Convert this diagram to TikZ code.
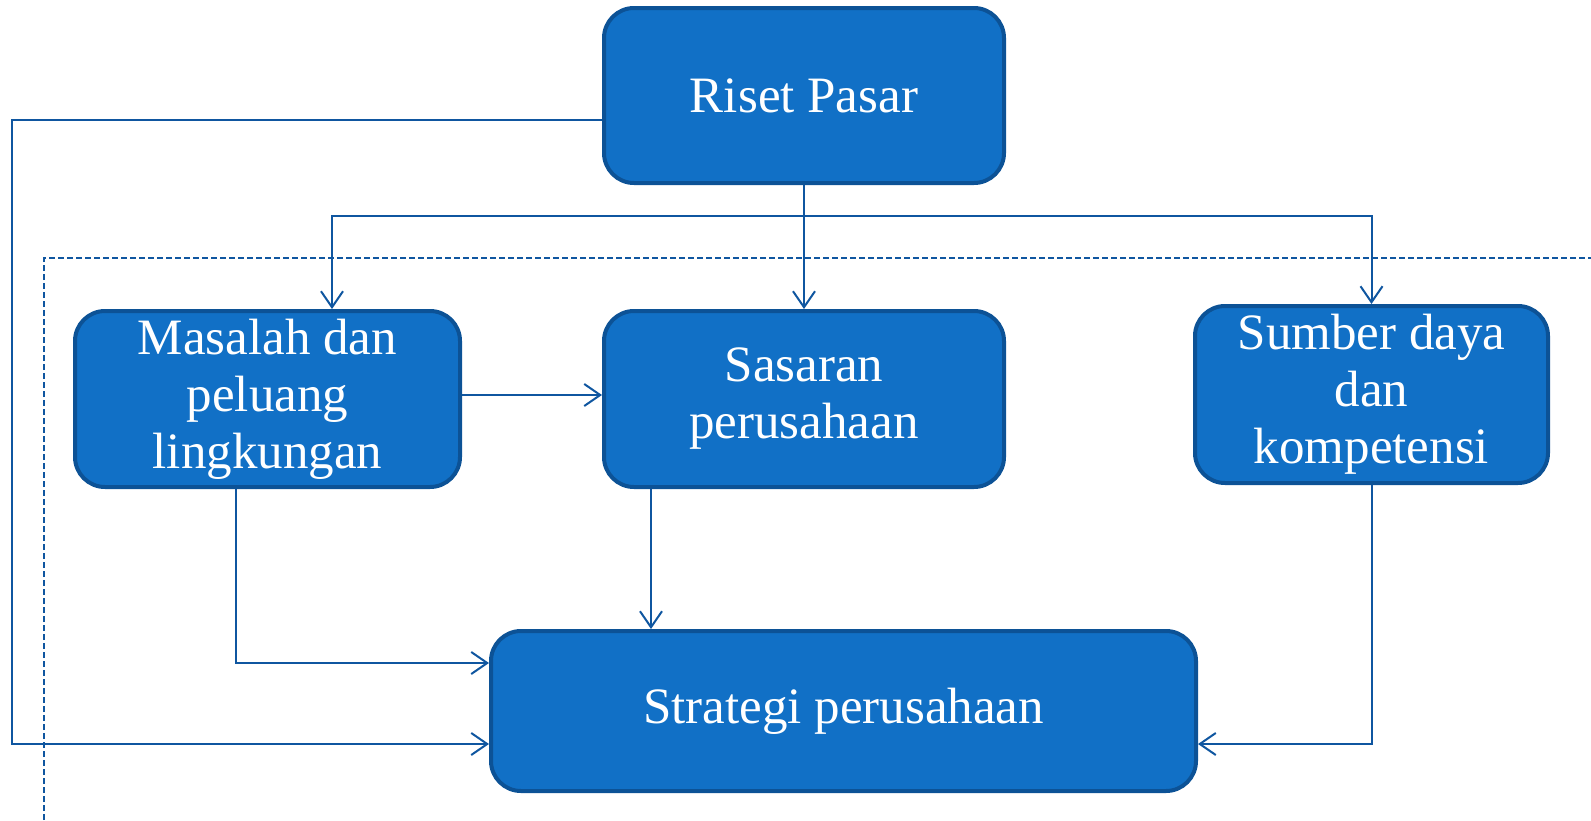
\documentclass[tikz,border=0pt]{standalone}
\usepackage{fontspec}
\setmainfont{Liberation Serif}
\usetikzlibrary{arrows.meta}

\definecolor{boxfill}{RGB}{17,112,198}
\definecolor{boxline}{RGB}{12,82,150}
\definecolor{connline}{RGB}{15,86,160}

\tikzset{
  blok/.style={draw=boxline, line width=4pt, fill=boxfill, rounded corners=30pt,
    text=white, align=center, font=\fontsize{51}{57}\selectfont, inner sep=0pt},
  conn/.style={draw=connline, line width=2pt,
    -{Straight Barb[length=16pt,width=22pt,line width=2pt]}},
}

\begin{document}
\begin{tikzpicture}[x=1pt,y=-1pt]
  \useasboundingbox (0,0) rectangle (1591,820);

  \node[blok, minimum width=400pt, minimum height=175pt] (riset) at (804,95.5) {Riset Pasar};
  \node[blok, minimum width=385pt, minimum height=176pt] (masalah) at (267.5,399) {Masalah dan\\peluang\\lingkungan};
  \node[blok, minimum width=400pt, minimum height=176pt] (sasaran) at (804,399) {Sasaran\\perusahaan};
  \node[blok, minimum width=353pt, minimum height=177pt] (sumber) at (1371.5,394.5) {Sumber daya\\dan\\kompetensi};
  \node[blok, minimum width=705pt, minimum height=160pt] (strategi) at (843.5,711) {Strategi perusahaan};

  % dashed frame
  \draw[connline, line width=2pt, dash pattern=on 6pt off 3pt] (44,820) |- (1591,258);

  \coordinate (kiri) at (12,744);
  \draw[conn] ([yshift=-24.5pt]riset.west) -| (kiri) -- (kiri -| strategi.west);
  \draw[conn] (riset) -- (sasaran);
  \draw[conn] (riset.south) -- ++(0,31) -| ([xshift=64.5pt]masalah.north);
  \draw[conn] (riset.south) -- ++(0,31) -| (sumber.north);
  \draw[conn] ([yshift=4pt]masalah.east) -- ([yshift=4pt]sasaran.west);
  \draw[conn] ([xshift=-31.5pt]masalah.south) |- ([yshift=48pt]strategi.west);
  \draw[conn] ([xshift=-153pt]sasaran.south) -- ([xshift=-153pt]sasaran.south |- strategi.north);
  \draw[conn] (sumber.south) |- ([yshift=-33pt]strategi.east);
\end{tikzpicture}
\end{document}
